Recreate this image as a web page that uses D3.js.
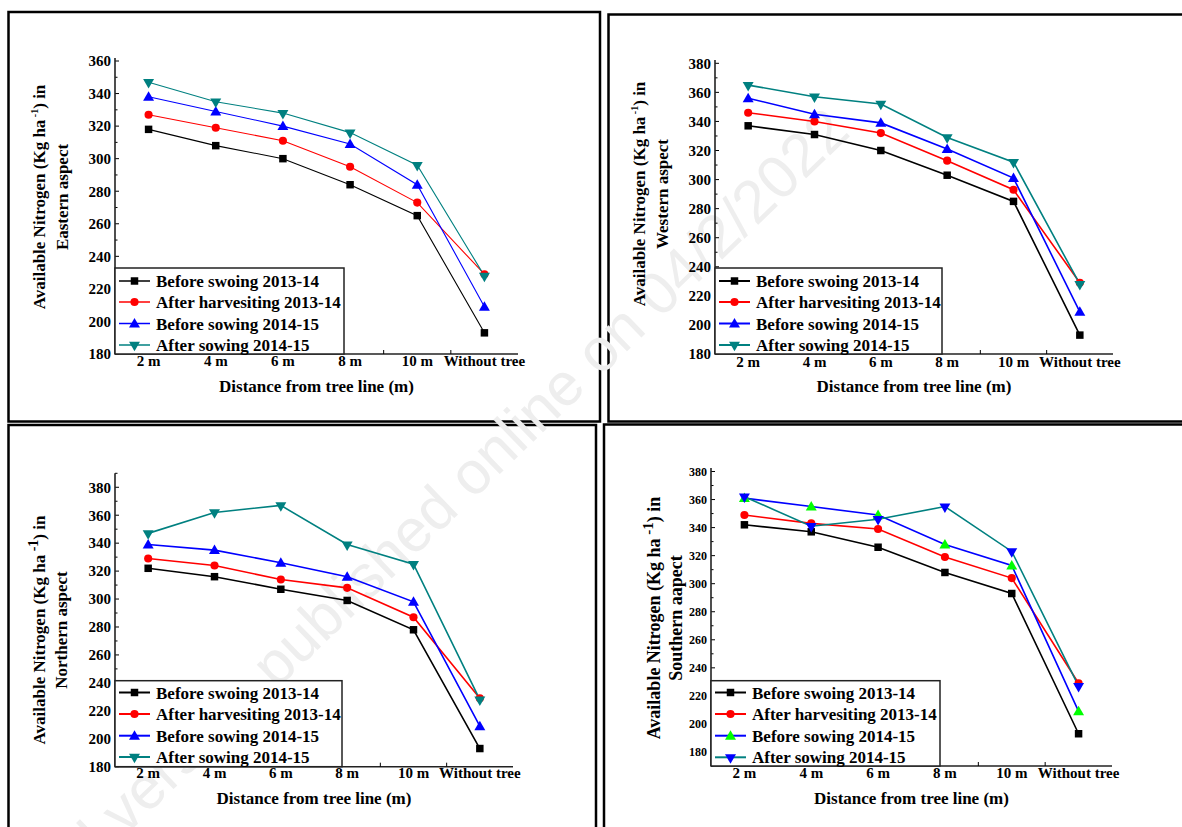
<!DOCTYPE html>
<html>
<head>
<meta charset="utf-8">
<script src="https://cdn.jsdelivr.net/npm/d3@7"></script>
<style>
  html, body { margin: 0; padding: 0; background: #fff; }
  svg { display: block; }
  text { font-family: "Liberation Serif", "Times New Roman", serif; font-weight: bold; fill: #000; }
</style>
</head>
<body>
<svg id="chart" width="1182" height="827"></svg>
<script>
// ---------------- DATA ----------------
const categories = ["2 m", "4 m", "6 m", "8 m", "10 m", "Without tree"];
const seriesNames = ["Before swoing 2013-14", "After harvesiting 2013-14", "Before sowing 2014-15", "After sowing 2014-15"];

// Eastern aspect
const eastBeforeSowing1314 = [318, 308, 300, 284, 265, 193];
const eastAfterHarvest1314 = [327, 319, 311, 295, 273, 229];
const eastBeforeSowing1415 = [338, 329, 320, 309, 284, 209];
const eastAfterSowing1415  = [347, 335, 328, 316, 296, 228];

// Western aspect
const westBeforeSowing1314 = [337, 331, 320, 303, 285, 193];
const westAfterHarvest1314 = [346, 340, 332, 313, 293, 229];
const westBeforeSowing1415 = [356, 345, 339, 321, 301, 209];
const westAfterSowing1415  = [365, 357, 352, 329, 312, 228];

// Northern aspect
const northBeforeSowing1314 = [322, 316, 307, 299, 278, 193];
const northAfterHarvest1314 = [329, 324, 314, 308, 287, 229];
const northBeforeSowing1415 = [339, 335, 326, 316, 298, 209];
const northAfterSowing1415  = [347, 362, 367, 339, 325, 228];

// Southern aspect
const southBeforeSowing1314 = [342, 337, 326, 308, 293, 193];
const southAfterHarvest1314 = [349, 343, 339, 319, 304, 229];
const southBeforeSowing1415 = [361, 355, 349, 328, 313, 209];
const southAfterSowing1415  = [362, 341, 346, 355, 323, 227];

// Y tick labels
const eastTicks  = [180, 200, 220, 240, 260, 280, 300, 320, 340, 360];
const westTicks  = [180, 200, 220, 240, 260, 280, 300, 320, 340, 360, 380];
const northTicks = [180, 200, 220, 240, 260, 280, 300, 320, 340, 360, 380];
const southTicks = [180, 200, 220, 240, 260, 280, 300, 320, 340, 360, 380];

const xTitle = "Distance from tree line (m)";
const watermarkText = "Accepted version published online on 04/2/2022";

// ---------------- LAYOUT / STYLE ----------------
const svg = d3.select("#chart");

// frames
const frames = [
  {x: 8.5, y: 12, w: 591.5, h: 409.5},
  {x: 608.5, y: 14.5, w: 600, h: 407},
  {x: 8.5, y: 425, w: 587.5, h: 420},
  {x: 604, y: 424.5, w: 600, h: 420}
];
svg.selectAll("rect.frame").data(frames).join("rect")
  .attr("class", "frame")
  .attr("x", d => d.x).attr("y", d => d.y)
  .attr("width", d => d.w).attr("height", d => d.h)
  .attr("fill", "none").attr("stroke", "#000").attr("stroke-width", 2.5);

// watermark
svg.append("text")
  .attr("transform", "translate(852,134) rotate(-44)")
  .attr("text-anchor", "end")
  .style("font-family", "'Liberation Sans', Arial, sans-serif")
  .style("font-weight", "normal")
  .style("font-size", "60px")
  .style("fill", "#eeeeee")
  .text(watermarkText);

const panels = [
  {
    series: [eastBeforeSowing1314, eastAfterHarvest1314, eastBeforeSowing1415, eastAfterSowing1415],
    ticks: eastTicks, aspect: "Eastern aspect",
    x0: 115, x1: 518, yDomain: [180, 360], yRange: [354, 61], axisTop: 58, xAxisY: 354,
    tickFont: 15, lineW: 1.1,
    markerFill: ["#000", "#ff0000", "#0000ff", "#008080"],
    legend: {x0: 115, x1: 344, y0: 268, rows: [281, 302, 323.5, 345]},
    yTitle: {x1: 39, x2: 62, yc: 197, size: 17, supSize: 10},
    tickLabelY: 366, xTitleY: 392
  },
  {
    series: [westBeforeSowing1314, westAfterHarvest1314, westBeforeSowing1415, westAfterSowing1415],
    ticks: westTicks, aspect: "Western aspect",
    x0: 715, x1: 1113, yDomain: [180, 380], yRange: [354, 63.3], axisTop: 60, xAxisY: 354,
    tickFont: 15, lineW: 1.6,
    markerFill: ["#000", "#ff0000", "#0000ff", "#008080"],
    legend: {x0: 715, x1: 942, y0: 268, rows: [281, 302, 323.5, 345]},
    yTitle: {x1: 639, x2: 662, yc: 194, size: 17, supSize: 10},
    tickLabelY: 366.5, xTitleY: 392
  },
  {
    series: [northBeforeSowing1314, northAfterHarvest1314, northBeforeSowing1415, northAfterSowing1415],
    ticks: northTicks, aspect: "Northern aspect",
    x0: 115, x1: 513, yDomain: [180, 390], yRange: [766.7, 473.3], axisTop: 473.3, xAxisY: 766.7,
    tickFont: 15, lineW: 1.6,
    markerFill: ["#000", "#ff0000", "#0000ff", "#008080"],
    legend: {x0: 115, x1: 342, y0: 680.7, rows: [692.5, 714, 735.7, 757]},
    yTitle: {x1: 39, x2: 61, yc: 630, size: 17, supSize: 14},
    tickLabelY: 778, xTitleY: 804
  },
  {
    series: [southBeforeSowing1314, southAfterHarvest1314, southBeforeSowing1415, southAfterSowing1415],
    ticks: southTicks, aspect: "Southern aapect",
    x0: 711, x1: 1112, yDomain: [170, 382.5], yRange: [766, 468], axisTop: 468, xAxisY: 766,
    tickFont: 12, lineW: 1.6,
    markerFill: ["#000", "#ff0000", "#00ff00", "#0000ff"],
    legend: {x0: 711, x1: 940, y0: 680.7, rows: [692.5, 714, 735.7, 757.3]},
    yTitle: {x1: 654, x2: 676, yc: 618, size: 18, supSize: 15},
    tickLabelY: 778, xTitleY: 804
  }
];

const lineColors = ["#000000", "#ff0000", "#0000ff", "#008080"];
const markerShapes = ["square", "circle", "up", "down"];

function symbolPath(shape) {
  if (shape === "square") return d3.symbol(d3.symbolSquare, 56)();
  if (shape === "circle") return d3.symbol(d3.symbolCircle, 52)();
  return d3.symbol(d3.symbolTriangle, 52)();
}
function symbolTransform(shape, x, y) {
  if (shape === "down") return `translate(${x},${y}) rotate(180)`;
  if (shape === "up") return `translate(${x},${y + 0.8})`;
  return `translate(${x},${y})`;
}

panels.forEach(p => {
  const g = svg.append("g");
  const x = d3.scalePoint().domain(categories).range([p.x0, p.x1]).padding(0.5);
  const xBand = d3.scaleBand().domain(categories).range([p.x0, p.x1]);
  const y = d3.scaleLinear().domain(p.yDomain).range(p.yRange);

  // Y axis
  const yAxis = d3.axisLeft(y).tickValues(p.ticks).tickSize(0).tickPadding(4);
  const yg = g.append("g").attr("transform", `translate(${p.x0},0)`).call(yAxis);
  yg.select(".domain").remove();
  yg.selectAll("text").style("font-size", p.tickFont + "px")
    .style("font-family", "'Liberation Serif', serif").style("font-weight", "bold");
  // inward major and minor ticks
  const minorTicks = d3.range(p.ticks[0] - 10, p.ticks[p.ticks.length - 1] + 11, 10)
    .filter(v => v >= p.yDomain[0] && v <= p.yDomain[1]);
  g.selectAll("line.ytick").data(minorTicks).join("line")
    .attr("x1", p.x0).attr("x2", d => p.x0 + (p.ticks.includes(d) ? 4 : 2.5))
    .attr("y1", d => y(d)).attr("y2", d => y(d))
    .attr("stroke", "#000").attr("stroke-width", 1);
  g.append("line")
    .attr("x1", p.x0).attr("x2", p.x0)
    .attr("y1", p.xAxisY).attr("y2", p.axisTop)
    .attr("stroke", "#222").attr("stroke-width", 1.6);

  // X axis
  g.append("line")
    .attr("x1", p.x0).attr("x2", p.x1)
    .attr("y1", p.xAxisY).attr("y2", p.xAxisY)
    .attr("stroke", "#222").attr("stroke-width", 1.6);
  g.selectAll("line.xtick").data(categories.slice(1)).join("line")
    .attr("x1", d => xBand(d)).attr("x2", d => xBand(d))
    .attr("y1", p.xAxisY).attr("y2", p.xAxisY - 4)
    .attr("stroke", "#000").attr("stroke-width", 1);
  g.selectAll("text.xlab").data(categories).join("text")
    .attr("x", d => x(d)).attr("y", p.tickLabelY)
    .attr("text-anchor", "middle")
    .style("font-size", "15px")
    .text(d => d);

  // X title
  g.append("text")
    .attr("x", (p.x0 + p.x1) / 2).attr("y", p.xTitleY)
    .attr("text-anchor", "middle")
    .style("font-size", "17px")
    .text(xTitle);

  // Y title (two lines, rotated)
  const t1 = g.append("text")
    .attr("transform", `translate(${p.yTitle.x1 + 6},${p.yTitle.yc}) rotate(-90)`)
    .attr("text-anchor", "middle")
    .style("font-size", p.yTitle.size + "px");
  t1.append("tspan").text("Available Nitrogen (Kg ha");
  t1.append("tspan").attr("dy", -p.yTitle.size * 0.4).style("font-size", p.yTitle.supSize + "px").text(" -1");
  t1.append("tspan").attr("dy", p.yTitle.size * 0.4).text(") in");
  g.append("text")
    .attr("transform", `translate(${p.yTitle.x2 + 6},${p.yTitle.yc}) rotate(-90)`)
    .attr("text-anchor", "middle")
    .style("font-size", p.yTitle.size + "px")
    .text(p.aspect);

  // Series lines & markers
  const line = d3.line().x((d, i) => x(categories[i])).y(d => y(d));
  p.series.forEach((vals, si) => {
    g.append("path").datum(vals)
      .attr("d", line)
      .attr("fill", "none")
      .attr("stroke", lineColors[si])
      .attr("stroke-width", p.lineW);
  });
  p.series.forEach((vals, si) => {
    g.selectAll(null).data(vals).join("path")
      .attr("d", symbolPath(markerShapes[si]))
      .attr("transform", (d, i) => symbolTransform(markerShapes[si], x(categories[i]), y(d)))
      .attr("fill", p.markerFill[si]);
  });

  // Legend
  const L = p.legend;
  g.append("rect")
    .attr("x", L.x0).attr("y", L.y0)
    .attr("width", L.x1 - L.x0).attr("height", p.xAxisY - L.y0)
    .attr("fill", "#fff").attr("stroke", "#222").attr("stroke-width", 1.5);
  seriesNames.forEach((name, si) => {
    const ry = L.rows[si];
    g.append("line")
      .attr("x1", L.x0 + 4).attr("x2", L.x0 + 35)
      .attr("y1", ry).attr("y2", ry)
      .attr("stroke", lineColors[si]).attr("stroke-width", p.lineW + 0.4);
    g.append("path")
      .attr("d", symbolPath(markerShapes[si]))
      .attr("transform", symbolTransform(markerShapes[si], L.x0 + 19.5, ry))
      .attr("fill", p.markerFill[si]);
    g.append("text")
      .attr("x", L.x0 + 41).attr("y", ry + 6)
      .style("font-size", "17px")
      .text(name);
  });
});
</script>
</body>
</html>
